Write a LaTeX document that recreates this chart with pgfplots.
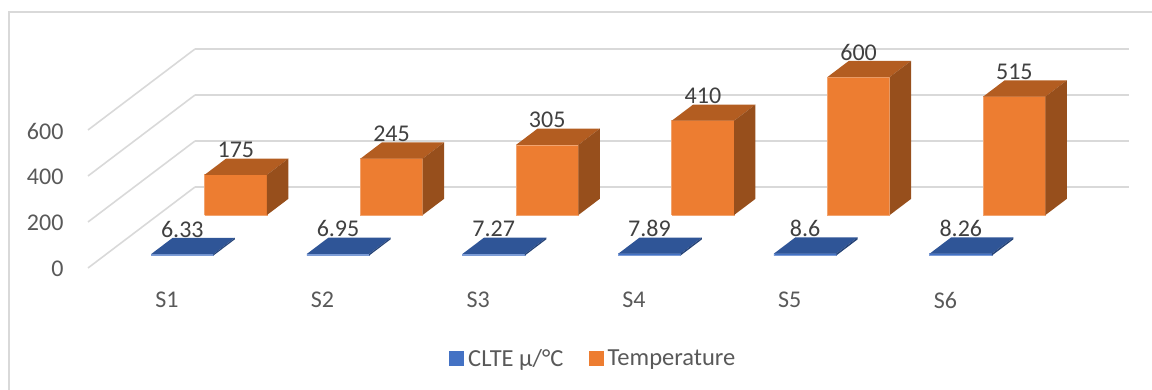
\documentclass[border=0pt]{standalone}
\usepackage{pgfplots}
\usepackage{fontspec}
\setmainfont{Carlito}
\pgfplotsset{compat=1.18}

\definecolor{orangefront}{HTML}{ED7D31}
\definecolor{orangetop}{HTML}{B35D21}
\definecolor{orangeside}{HTML}{974F1C}
\definecolor{bluefront}{HTML}{4472C4}
\definecolor{bluetop}{HTML}{2F5597}
\definecolor{blueside}{HTML}{264478}
\definecolor{framegray}{HTML}{D9D9D9}
\definecolor{ticktext}{HTML}{595959}
\definecolor{valuetext}{HTML}{404040}

% One cuboid: x range, depth range, height, and the three face colours
\newcommand{\cuboid}[8]{%
  \addplot3[forget plot,fill=#6,draw=#6!70!white,line width=0.6pt] coordinates
    {(#1,#3,0) (#2,#3,0) (#2,#3,#5) (#1,#3,#5) (#1,#3,0)};
  \addplot3[forget plot,fill=#7,draw=none] coordinates
    {(#1,#3,#5) (#2,#3,#5) (#2,#4,#5) (#1,#4,#5) (#1,#3,#5)};
  \addplot3[forget plot,fill=#8,draw=none] coordinates
    {(#2,#3,0) (#2,#4,0) (#2,#4,#5) (#2,#3,#5) (#2,#3,0)};
}
\newcommand{\bluebar}[2]{\cuboid{#1.3}{#1.7}{0.154}{0.354}{#2}{bluefront}{bluetop}{blueside}}
\newcommand{\orangebar}[2]{\cuboid{#1.3}{#1.7}{0.654}{0.854}{#2}{orangefront}{orangetop}{orangeside}}

\begin{document}
\begin{tikzpicture}[x=1pt,y=1pt]
  \path[use as bounding box] (0,0) rectangle (1152,390);
  % Chart area outline
  \draw[framegray,line width=1.6pt] (9,-2) -- (9,378) -- (1154,378);
  \begin{axis}[
    at={(88pt,122pt)}, anchor=origin,
    disabledatascaling,
    clip=false,
    x={(155.7pt,0pt)}, y={(107pt,81pt)}, z={(0pt,0.23pt)},
    xmin=0, xmax=6, ymin=0, ymax=1, zmin=0, zmax=600,
    xtick={0.5,1.5,2.5,3.5,4.5,5.5},
    xticklabels={S1,S2,S3,S4,S5,S6},
    ytick=\empty,
    ztick={0,200,400,600},
    zmajorgrids,
    major grid style={framegray,line width=1.6pt},
    axis line style={draw=none},
    tick style={draw=none},
    ticklabel style={font=\fontsize{24}{28}\selectfont,text=ticktext},
    x tick label style={anchor=center,xshift=1pt,yshift=-32pt},
    z tick label style={anchor=east,xshift=-21pt,yshift=-1pt},
    /pgf/number format/assume math mode=true,
    legend image code/.code={%
      \fill[#1] (0pt,-7pt) rectangle (14pt,7pt);
      \path[draw=none] (0pt,0pt) -- (17pt,0pt);},
    legend style={
      at={(axis cs:2.3185,0,-393)}, anchor=west,
      draw=none, fill=none, inner sep=0pt, outer sep=0pt,
      font=\fontsize{24.5}{28}\selectfont, text=ticktext,
      /tikz/every even column/.append style={column sep=23pt},
    },
    legend columns=2,
    legend cell align=left,
  ]
    \bluebar{0}{6.33}
    \bluebar{1}{6.95}
    \bluebar{2}{7.27}
    \bluebar{3}{7.89}
    \bluebar{4}{8.6}
    \bluebar{5}{8.26}
    \orangebar{0}{175}
    \orangebar{1}{245}
    \orangebar{2}{305}
    \orangebar{3}{410}
    \orangebar{4}{600}
    \orangebar{5}{515}

    % Value labels above the front edge of each bar
    \addplot3[forget plot,only marks,mark=none,
      point meta=explicit symbolic,
      nodes near coords,
      every node near coord/.append style={anchor=center,yshift=25pt,
        font=\fontsize{24}{28}\selectfont,text=valuetext},
    ] table[meta=label] {
      x   y     z    label
      0.5 0.154 6.33 6.33
      1.5 0.154 6.95 6.95
      2.5 0.154 7.27 7.27
      3.5 0.154 7.89 7.89
      4.5 0.154 8.6  8.6
      5.5 0.154 8.26 8.26
      0.5 0.654 175  175
      1.5 0.654 245  245
      2.5 0.654 305  305
      3.5 0.654 410  410
      4.5 0.654 600  600
      5.5 0.654 515  515
    };

    \addlegendimage{bluefront}
    \addlegendentry{CLTE µ/°C}
    \addlegendimage{orangefront}
    \addlegendentry{Temperature}
  \end{axis}
\end{tikzpicture}
\end{document}
